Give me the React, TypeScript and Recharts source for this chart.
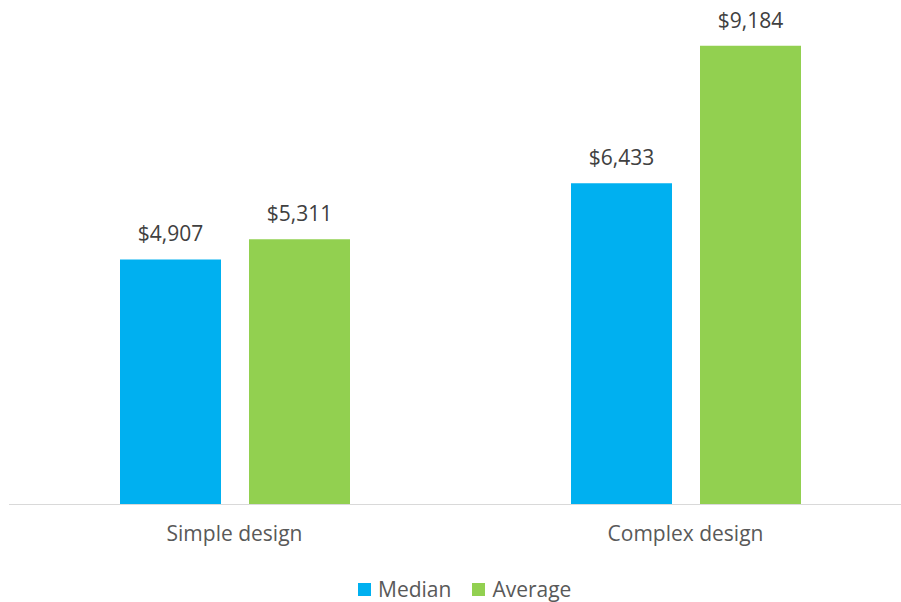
import React from "react";
import { BarChart, Bar, XAxis, YAxis, LabelList } from "recharts";

const categories = ["Simple design", "Complex design"];
const medianValues = [4907, 6433];
const averageValues = [5311, 9184];
const seriesNames = ["Median", "Average"];
const seriesColors = ["#00B0F0", "#92D050"];

const data = categories.map((c, i) => ({
  name: c,
  median: medianValues[i],
  average: averageValues[i],
}));

const fmt = (v: any) => "$" + Number(v).toLocaleString("en-US");
const FONT = "'Open Sans', sans-serif";

export default function App() {
  return (
    <div
      style={{
        position: "absolute",
        left: 0,
        top: 0,
        width: 901,
        height: 602,
        overflow: "hidden",
        background: "#fff",
        fontFamily: FONT,
      }}
    >
      <BarChart
        width={911}
        height={602}
        data={data}
        margin={{ top: 5, right: 0, bottom: 0, left: 9 }}
        barSize={101}
        barGap={28}
      >
        <YAxis hide domain={[0, 10000]} />
        <XAxis
          dataKey="name"
          height={97.5}
          axisLine={{ stroke: "#D9D9D9", strokeWidth: 1 }}
          tickLine={false}
          tickSize={6}
          tickMargin={16}
          tick={{ fill: "#595959", fontSize: 21, fontFamily: FONT }}
        />
        <Bar dataKey="median" fill={seriesColors[0]} isAnimationActive={false}>
          <LabelList
            dataKey="median"
            position="top"
            offset={18}
            formatter={fmt}
            style={{ fill: "#404040", fontSize: 21, fontFamily: FONT }}
          />
        </Bar>
        <Bar dataKey="average" fill={seriesColors[1]} isAnimationActive={false}>
          <LabelList
            dataKey="average"
            position="top"
            offset={18}
            formatter={fmt}
            style={{ fill: "#404040", fontSize: 21, fontFamily: FONT }}
          />
        </Bar>
      </BarChart>
      <div
        style={{
          position: "absolute",
          left: 358,
          top: 575,
          display: "flex",
          alignItems: "center",
          fontSize: 21,
          color: "#595959",
          whiteSpace: "nowrap",
        }}
      >
        {seriesNames.map((n, i) => (
          <div key={n} style={{ display: "flex", alignItems: "center", marginRight: 21 }}>
            <span
              style={{
                display: "inline-block",
                width: 13,
                height: 13,
                background: seriesColors[i],
                marginRight: 7,
              }}
            />
            <span>{n}</span>
          </div>
        ))}
      </div>
    </div>
  );
}
